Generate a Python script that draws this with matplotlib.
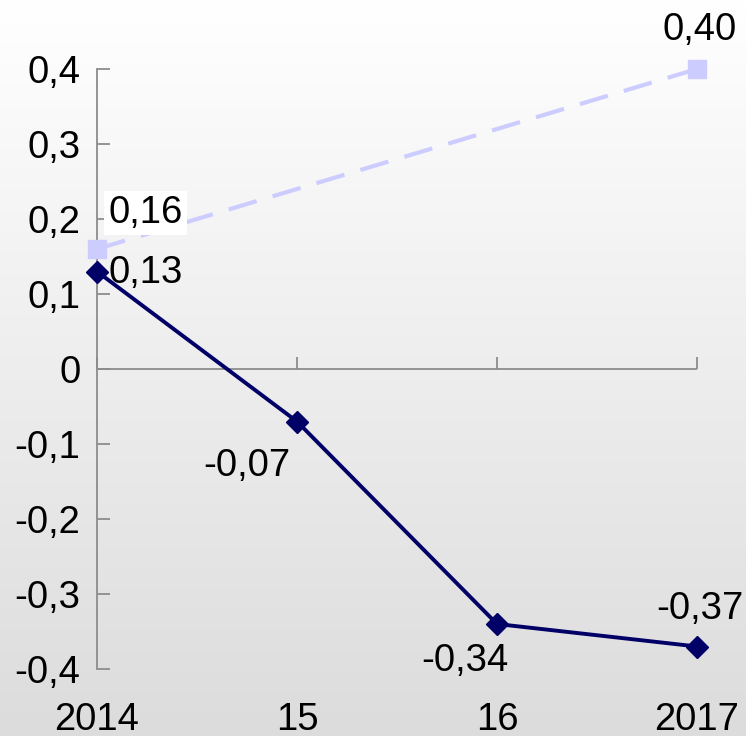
import numpy as np
import matplotlib.pyplot as plt
from matplotlib.colors import LinearSegmentedColormap

plt.rcParams['font.family'] = ['Liberation Sans', 'DejaVu Sans']

# categories on the x axis
years = ['2014', '15', '16', '2017']
# dark series, one value per year
dark_values = [0.13, -0.07, -0.34, -0.37]
dark_labels = ['0,13', '-0,07', '-0,34', '-0,37']
# light series only has first and last year
light_years = ['2014', '2017']
light_values = [0.16, 0.40]
light_labels = ['0,16', '0,40']

yticks = [-0.4, -0.3, -0.2, -0.1, 0, 0.1, 0.2, 0.3, 0.4]
ytick_labels = ['-0,4', '-0,3', '-0,2', '-0,1', '0', '0,1', '0,2', '0,3', '0,4']

navy = '#000066'
lavender = '#ccccff'
gray = '#8c8c8c'

W, H = 746, 736
fig = plt.figure(figsize=(W / 100, H / 100), dpi=100)

#gradient background over the whole figure
bg = fig.add_axes([0, 0, 1, 1], zorder=-10)
grad = np.linspace(0, 1, 256).reshape(-1, 1)
cmap = LinearSegmentedColormap.from_list('bg', ['#ffffff', '#dcdcdc'])
bg.imshow(grad, aspect='auto', cmap=cmap, extent=[0, 1, 0, 1], origin='upper')
bg.axis('off')

ax = fig.add_axes([97 / W, (H - 669) / H, 600 / W, 600 / H])
ax.patch.set_alpha(0)

xpos = np.arange(len(years))
ax.set_xlim(0, 3)
ax.set_ylim(-0.4, 0.4)

# zero line
ax.axhline(0, color=gray, lw=1.3, zorder=1)

ax.plot(xpos, dark_values, color=navy, lw=2.8, marker='D', markersize=11,
        zorder=4, clip_on=False)

light_x = [years.index(y) for y in light_years]
ax.plot(light_x, light_values, color=lavender, lw=3, ls=(0, (7, 4)),
        marker='s', markersize=13, zorder=3, clip_on=False)

# value labels, offsets in points from the marker
fs = 27.5
dark_offsets = [(8, -1, 'left', 'center'), (-36, -19, 'center', 'top'),
                (-23, -14, 'center', 'top'), (2, 14, 'center', 'bottom')]
for x, v, t, (dx, dy, ha, va) in zip(xpos, dark_values, dark_labels, dark_offsets):
    ax.annotate(t, (x, v), xytext=(dx, dy), textcoords='offset points',
                ha=ha, va=va, fontsize=fs, color='black', annotation_clip=False)

light_offsets = [(35, 26, 'center', 'center'), (2, 15, 'center', 'bottom')]
for i, (x, v, t) in enumerate(zip(light_x, light_values, light_labels)):
    dx, dy, ha, va = light_offsets[i]
    box = dict(facecolor='white', edgecolor='none', pad=3) if i == 0 else None
    ax.annotate(t, (x, v), xytext=(dx, dy), textcoords='offset points',
                ha=ha, va=va, fontsize=fs, color='black', bbox=box,
                annotation_clip=False)

# axes styling
for s in ['top', 'right', 'bottom']:
    ax.spines[s].set_visible(False)
ax.spines['left'].set_color(gray)
ax.spines['left'].set_linewidth(1.3)

ax.set_yticks(yticks)
ax.set_yticklabels(ytick_labels)
ax.tick_params(axis='y', direction='in', length=9, width=1.3, color=gray,
               labelsize=fs, pad=12)

ax.set_xticks(xpos)
ax.set_xticklabels(years)
ax.tick_params(axis='x', length=0, labelsize=fs, pad=24)

# upward tick marks on the zero line
sec = ax.secondary_xaxis(0.5)
sec.set_xticks(xpos)
sec.tick_params(axis='x', direction='out', length=9, width=1.3, color=gray,
                labelbottom=False, labeltop=False)
for s in sec.spines.values():
    s.set_visible(False)

fig.savefig('out.png', dpi=100)
